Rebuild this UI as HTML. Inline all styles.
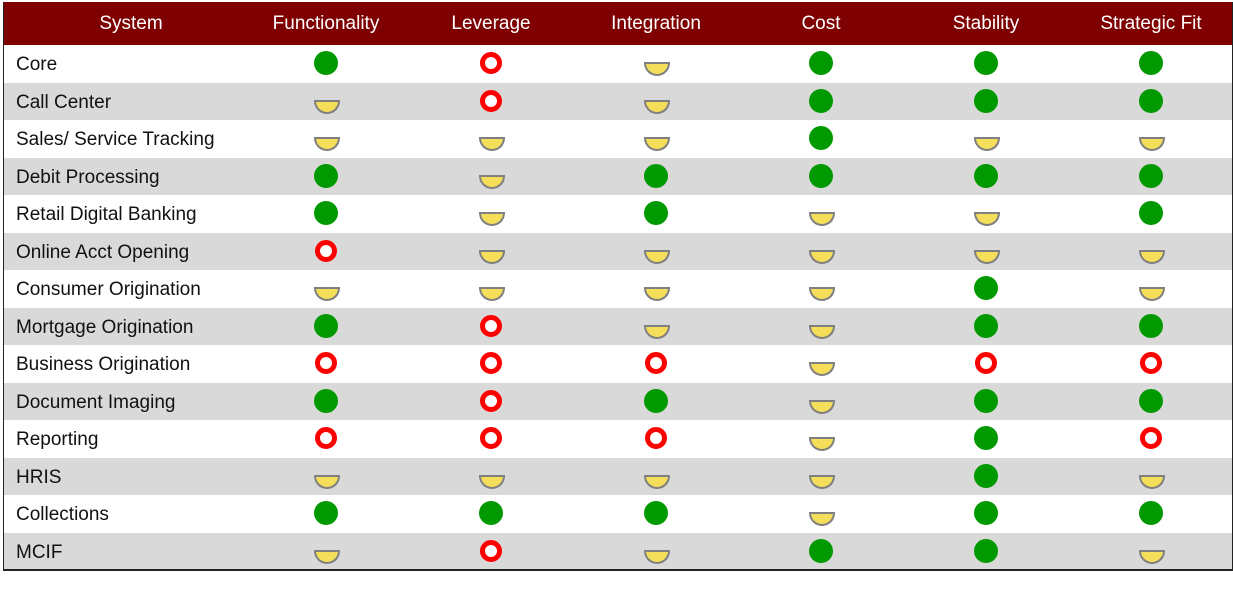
<!DOCTYPE html>
<html><head><meta charset="utf-8"><style>
body{margin:0;background:#fff;width:1233px;height:591px;overflow:hidden;font-family:"Liberation Sans",sans-serif}
#t{position:absolute;left:3px;top:2px;width:1228px;height:568px;border-left:1px solid #222;border-right:1px solid #222}
#bl{position:absolute;left:3px;top:569px;width:1230px;height:2px;background:#222}
.hdr{position:absolute;left:0;top:0;width:1228px;height:43px;background:#7f0000}
.h{position:absolute;top:0;height:43px;line-height:43px;color:#fff;font-size:19px;text-align:center;width:170px;margin-left:-85px}
.row{position:absolute;left:0;width:1228px;height:37.5px}
.lab{position:absolute;left:12px;font-size:19px;color:#111;line-height:39px}
.i{position:absolute}
</style></head><body>
<div id="t">
<div class="hdr"></div>
</div>
<div id="bl"></div>
<script>
const columns=["Functionality","Leverage","Integration","Cost","Stability","Strategic Fit"];
const systems=["Core","Call Center","Sales/ Service Tracking","Debit Processing","Retail Digital Banking","Online Acct Opening","Consumer Origination","Mortgage Origination","Business Origination","Document Imaging","Reporting","HRIS","Collections","MCIF"];
const ratings=[
"GRYGGG","YRYGGG","YYYGYY","GYGGGG","GYGYYG","RYYYYY","YYYYGY","GRYYGG","RRRYRR","GRGYGG","RRRYGR","YYYYGY","GGGYGG","YRYGGY"];
const t=document.getElementById('t');
const hdr=t.querySelector('.hdr');
const colX=[322,487,652,817,982,1147];
function h(txt,x,name){const d=document.createElement('div');d.className='h';d.style.left=x+'px';d.textContent=txt;


hdr.appendChild(d);}
h("System",127,'header-system');
columns.forEach((c,i)=>h(c,colX[i],'header-'+c.toLowerCase().replace(/\s+/g,'-')));
systems.forEach((s,r)=>{
const row=document.createElement('div');row.className='row';


row.style.top=(43+r*37.5)+'px';row.style.background=r%2?'#d9d9d9':'#fff';
const l=document.createElement('div');l.className='lab';l.textContent=s;


row.appendChild(l);
columns.forEach((c,ci)=>{
const v=ratings[r][ci];const ic=document.createElement('div');ic.className='i';


const x=colX[ci];
if(v==='G'){ic.style.cssText=`left:${x-12}px;top:6px;width:24px;height:24px;border-radius:50%;background:#009900`;}
else if(v==='R'){ic.style.cssText=`left:${x-11}px;top:7px;width:12px;height:12px;border-radius:50%;border:5px solid #ff0000;background:#fff`;}
else{ic.style.cssText=`left:${x-12}px;top:17px;width:22px;height:10px;border:2px solid #808080;border-radius:0 0 13px 13px;background:#f5df5a`;}
row.appendChild(ic);});
t.appendChild(row);});
</script>
</body></html>
